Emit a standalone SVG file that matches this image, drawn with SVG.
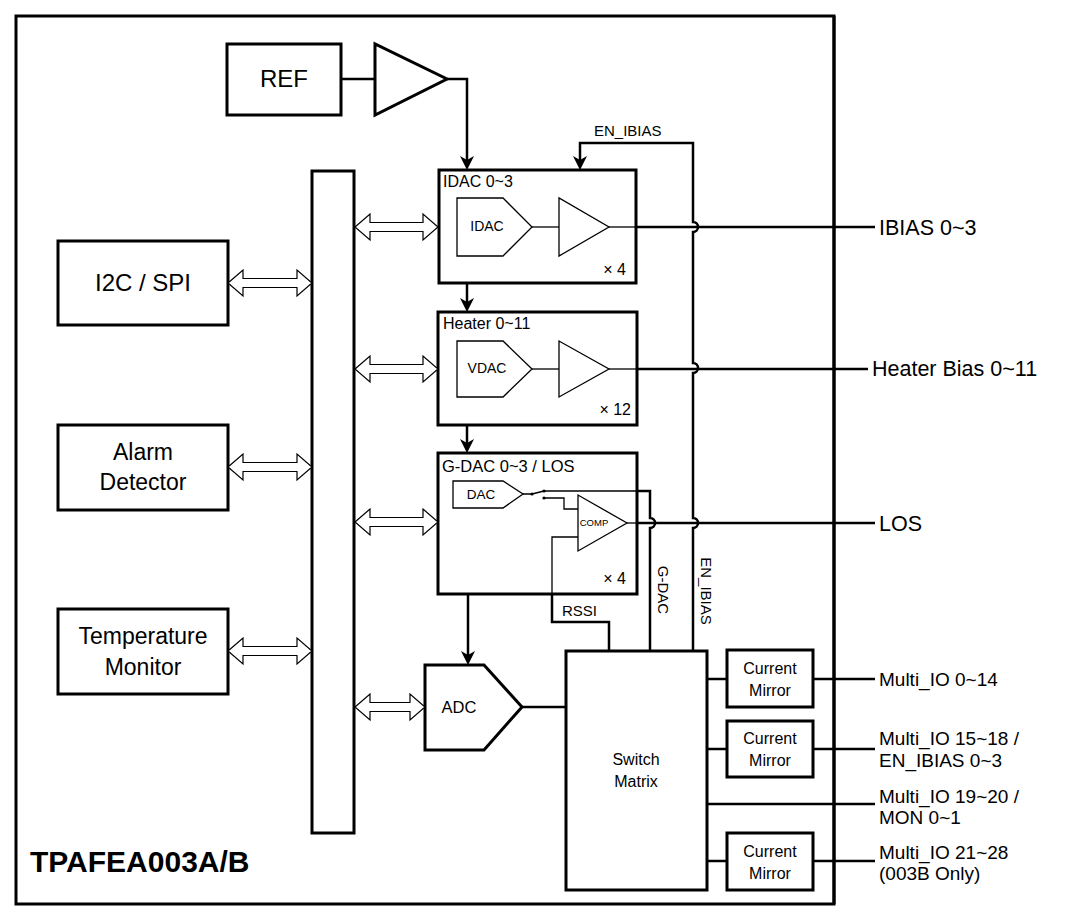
<svg xmlns="http://www.w3.org/2000/svg" width="1080" height="919" viewBox="0 0 1080 919">
<style>
text{font-family:"Liberation Sans",Arial,sans-serif;fill:#000}
.box{fill:#fff;stroke:#000;stroke-width:3}
.thin{fill:none;stroke:#000;stroke-width:1.3}
.shape{fill:#fff;stroke:#000;stroke-width:1.3}
.wire{fill:none;stroke:#000;stroke-width:2.5}
.dbl{fill:#fff;stroke:#000;stroke-width:1.2}
.c{text-anchor:middle}
</style>
<defs>
<marker id="arr" markerUnits="userSpaceOnUse" viewBox="0 0 14 14" markerWidth="14" markerHeight="14" refX="4" refY="7" orient="auto">
<path d="M0,0 L14,7 L0,14 L4,7 z" fill="#000"/>
</marker>
</defs>
<rect id="frame" x="16" y="16" width="818" height="888" fill="#fff" stroke="#000" stroke-width="3"/>
<g id="ref">
<rect class="box" x="227" y="44" width="114" height="71"/>
<text x="284" y="79" class="c" font-size="24" dy="0.35em">REF</text>
</g>
<g id="ref-amp">
<path class="box" d="M375,44 L375,115 L447,79 Z"/>
</g>
<g id="i2c-spi">
<rect class="box" x="58" y="241" width="170" height="84"/>
<text x="143" y="283" class="c" font-size="24" dy="0.35em">I2C / SPI</text>
</g>
<g id="alarm">
<rect class="box" x="58" y="425" width="170" height="85"/>
<text x="143" y="452" class="c" font-size="23" dy="0.35em">Alarm</text>
<text x="143" y="482" class="c" font-size="23" dy="0.35em">Detector</text>
</g>
<g id="temp">
<rect class="box" x="58" y="609" width="170" height="85"/>
<text x="143" y="636" class="c" font-size="23" dy="0.35em">Temperature</text>
<text x="143" y="667" class="c" font-size="23" dy="0.35em">Monitor</text>
</g>
<g id="bus">
<rect class="box" x="312" y="171" width="42" height="662"/>
</g>
<g id="idac">
<rect class="box" x="439" y="170" width="197" height="113"/>
<text x="443" y="187" font-size="16">IDAC 0~3</text>
<path class="shape" d="M457,198 H503 L532,227 L503,256 H457 Z"/>
<text x="487" y="226" class="c" font-size="14" dy="0.35em">IDAC</text>
<path class="thin" d="M532,227 H559"/>
<path class="shape" d="M559,198 L559,256 L609,227 Z"/>
<text x="626" y="275" font-size="16" text-anchor="end">× 4</text>
</g>
<g id="heater">
<rect class="box" x="438" y="312" width="199" height="113"/>
<text x="443" y="329" font-size="16">Heater 0~11</text>
<path class="shape" d="M457,341 H503 L532,369 L503,397 H457 Z"/>
<text x="487" y="368" class="c" font-size="14" dy="0.35em">VDAC</text>
<path class="thin" d="M532,369 H559"/>
<path class="shape" d="M559,341 L559,397 L609,369 Z"/>
<text x="631" y="415" font-size="16" text-anchor="end">× 12</text>
</g>
<g id="gdac">
<rect class="box" x="438" y="453" width="199" height="141"/>
<text x="442" y="472" font-size="16.5">G-DAC 0~3 / LOS</text>
<path class="shape" d="M453,481 H503 L523,494 L503,508 H453 Z"/>
<text x="481" y="494" class="c" font-size="13.5" dy="0.35em">DAC</text>
<path class="shape" d="M578,495 L578,551 L627,523 Z"/>
<text x="594" y="523" class="c" font-size="9.5" dy="0.35em">COMP</text>
<text x="626" y="584" font-size="16" text-anchor="end">× 4</text>
</g>
<g id="adc">
<path class="box" d="M425,665 H484 L522,707 L484,750 H425 Z"/>
<text x="459" y="707" class="c" font-size="16.5" dy="0.35em">ADC</text>
</g>
<g id="switch-matrix">
<rect class="box" x="566" y="651" width="141" height="239"/>
<text x="636" y="759" class="c" font-size="16" dy="0.35em">Switch</text>
<text x="636" y="781" class="c" font-size="16" dy="0.35em">Matrix</text>
</g>
<g id="cm1">
<rect class="box" x="727" y="650" width="86" height="57"/>
<text x="770" y="668" class="c" font-size="16" dy="0.35em">Current</text>
<text x="770" y="690" class="c" font-size="16" dy="0.35em">Mirror</text>
</g>
<g id="cm2">
<rect class="box" x="727" y="721" width="86" height="56"/>
<text x="770" y="738" class="c" font-size="16" dy="0.35em">Current</text>
<text x="770" y="760" class="c" font-size="16" dy="0.35em">Mirror</text>
</g>
<g id="cm3">
<rect class="box" x="727" y="833" width="86" height="57"/>
<text x="770" y="851" class="c" font-size="16" dy="0.35em">Current</text>
<text x="770" y="873" class="c" font-size="16" dy="0.35em">Mirror</text>
</g>
<g id="connectors">
<path class="wire" d="M341,79 H375"/>
<path class="wire" d="M447,79 H467 V160" marker-end="url(#arr)"/>
<path class="wire" d="M693,651 V528 a5,5 0 0 0 0,-10 V373 a5,5 0 0 0 0,-10 V232 a5,5 0 0 0 0,-10 V143 H580 V160" marker-end="url(#arr)"/>
<path class="wire" d="M467,283 V302" marker-end="url(#arr)"/>
<path class="wire" d="M467,425 V443" marker-end="url(#arr)"/>
<path class="wire" d="M468,594 V655" marker-end="url(#arr)"/>
<path class="thin" d="M609,227 H637"/>
<path class="wire" d="M637,227 H875"/>
<path class="thin" d="M609,369 H637"/>
<path class="wire" d="M637,369 H868"/>
<path class="thin" d="M627,523 H637"/>
<path class="wire" d="M637,523 H875"/>
<path class="thin" d="M544,491 H637"/>
<path class="wire" d="M637,491 H650 V518 a5,5 0 0 1 0,10 V651"/>
<path class="thin" d="M523,494 H532 L544,491"/>
<path class="thin" d="M544,498 H564 V509 H578"/>
<circle cx="532" cy="494" r="1.6"/>
<circle cx="544" cy="491" r="1.6"/>
<circle cx="544" cy="498" r="1.6"/>
<path class="thin" d="M578,537 H552 V594"/>
<path class="wire" d="M552,594 V622 H609 V651"/>
<path class="wire" d="M522,707 H566"/>
<path class="wire" d="M707,679 H727"/>
<path class="wire" d="M813,679 H875"/>
<path class="wire" d="M707,749 H727"/>
<path class="wire" d="M813,749 H875"/>
<path class="wire" d="M707,804 H875"/>
<path class="wire" d="M707,861 H727"/>
<path class="wire" d="M813,861 H875"/>
<path class="dbl" d="M228,283 l15,-13 v8.5 h54 v-8.5 l15,13 l-15,13 v-8.5 h-54 v8.5 z"/>
<path class="dbl" d="M228,467 l15,-13 v8.5 h54 v-8.5 l15,13 l-15,13 v-8.5 h-54 v8.5 z"/>
<path class="dbl" d="M228,651 l15,-13 v8.5 h54 v-8.5 l15,13 l-15,13 v-8.5 h-54 v8.5 z"/>
<path class="dbl" d="M355,227 l15,-13 v8.5 h53 v-8.5 l15,13 l-15,13 v-8.5 h-53 v8.5 z"/>
<path class="dbl" d="M355,369 l15,-13 v8.5 h53 v-8.5 l15,13 l-15,13 v-8.5 h-53 v8.5 z"/>
<path class="dbl" d="M355,522 l15,-13 v8.5 h53 v-8.5 l15,13 l-15,13 v-8.5 h-53 v8.5 z"/>
<path class="dbl" d="M355,707 l15,-13 v8.5 h40 v-8.5 l15,13 l-15,13 v-8.5 h-40 v8.5 z"/>
<text x="594" y="136" font-size="15">EN_IBIAS</text>
<text x="562" y="616" font-size="15">RSSI</text>
<text transform="translate(663,590) rotate(90)" class="c" font-size="15" dy="0.35em">G-DAC</text>
<text transform="translate(706,591) rotate(90)" class="c" font-size="15" dy="0.35em">EN_IBIAS</text>
</g>
<g id="frame-edge">
<path d="M834,16 V904" fill="none" stroke="#000" stroke-width="3"/>
</g>
<g id="outputs">
<text x="879" y="227" font-size="21.5" dy="0.35em">IBIAS 0~3</text>
<text x="872" y="368" font-size="21.5" dy="0.35em">Heater Bias 0~11</text>
<text x="879" y="523" font-size="21.5" dy="0.35em">LOS</text>
<text x="879" y="679" font-size="19" dy="0.35em">Multi_IO 0~14</text>
<text x="879" y="738" font-size="19" dy="0.35em">Multi_IO 15~18 /</text>
<text x="879" y="760" font-size="19" dy="0.35em">EN_IBIAS 0~3</text>
<text x="879" y="796" font-size="19" dy="0.35em">Multi_IO 19~20 /</text>
<text x="879" y="817" font-size="19" dy="0.35em">MON 0~1</text>
<text x="879" y="852" font-size="19" dy="0.35em">Multi_IO 21~28</text>
<text x="879" y="873" font-size="19" dy="0.35em">(003B Only)</text>
</g>
<text id="title" x="30" y="872" font-size="30" font-weight="bold">TPAFEA003A/B</text>
</svg>
